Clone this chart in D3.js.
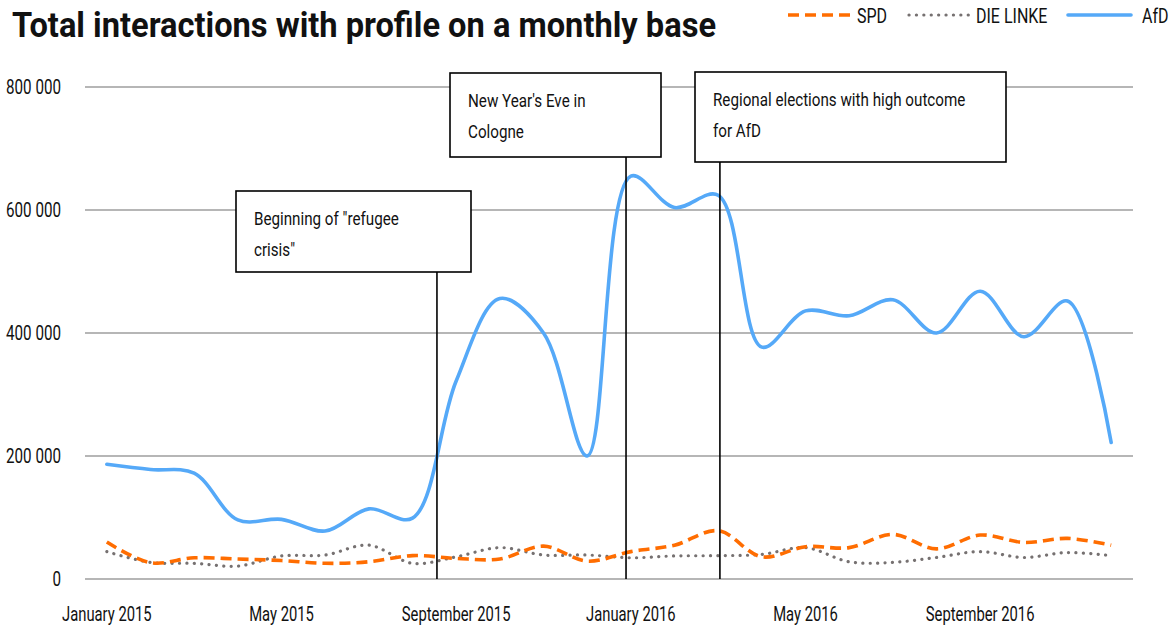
<!DOCTYPE html>
<html>
<head>
<meta charset="utf-8">
<script src="https://cdn.jsdelivr.net/npm/d3@7"></script>
<style>
  html, body { margin: 0; padding: 0; background: #fff; }
  svg { display: block; }
  text { font-family: Roboto, "Liberation Sans", sans-serif; fill: #111; }
</style>
</head>
<body>
<svg id="chart" width="1169" height="629"></svg>
<script>
const months = ["Jan 2015","Feb 2015","Mar 2015","Apr 2015","May 2015","Jun 2015","Jul 2015","Aug 2015","Sep 2015","Oct 2015","Nov 2015","Dec 2015",
                "Jan 2016","Feb 2016","Mar 2016","Apr 2016","May 2016","Jun 2016","Jul 2016","Aug 2016","Sep 2016","Oct 2016","Nov 2016","Dec 2016"];
const xTickLabels = ["January 2015","May 2015","September 2015","January 2016","May 2016","September 2016"];
const xTickMonths = ["Jan 2015","May 2015","Sep 2015","Jan 2016","May 2016","Sep 2016"];
const yTicks = [0, 200000, 400000, 600000, 800000];

const spd   = [60000,26500,34500,32500,30000,25500,28000,38000,33500,32500,53500,29000,44500,55000,78500,36000,52500,51000,72500,49000,71500,59500,66000,55000];
const linke = [44500,27000,25500,21000,37500,39000,55000,25500,36000,51000,39000,39000,34500,37500,38000,40000,51000,28000,27000,35000,44500,35000,43000,38000];
const afd   = [186500,178000,172000,96000,97000,78000,114000,99000,322000,456000,400000,200000,655000,604000,624000,377000,436000,428000,454000,400000,468000,394000,452000,222000];

const seriesNames = ["SPD","DIE LINKE","AfD"];
const events = [
  {lines:["Beginning of \"refugee", "crisis\""], at:7.56},
  {lines:["New Year's Eve in", "Cologne"], at:11.89},
  {lines:["Regional elections with high outcome", "for AfD"], at:14.04}
];

const svg = d3.select("#chart");
const pLeft = 85, pRight = 1133, pTop = 87, pBottom = 579;

const x = d3.scalePoint().domain(months).range([pLeft, pRight]).padding(0.5);
const xi = d3.scaleLinear().domain([0, months.length - 1]).range([x(months[0]), x(months[months.length-1])]);
const y = d3.scaleLinear().domain([0, 800000]).range([pBottom, pTop]);

// condensed text helper
function ctext(sel, tx, ty, sx) {
  return sel.attr("transform", `translate(${tx},${ty}) scale(${sx},1)`);
}

// gridlines
svg.append("g").selectAll("line").data(yTicks).join("line")
  .attr("x1", pLeft).attr("x2", pRight)
  .attr("y1", d => y(d)).attr("y2", d => y(d))
  .attr("stroke", "#9e9e9e").attr("stroke-width", 1.6);

// y labels
const fmt = d => d3.format(",")(d).replace(/,/g, " ");
svg.append("g").selectAll("text").data(yTicks).join("text")
  .each(function(d) { ctext(d3.select(this), 61, y(d), 0.76); })
  .attr("dy", "0.36em")
  .attr("text-anchor", "end").attr("font-size", 20)
  .text(fmt);

// x labels
svg.append("g").selectAll("text").data(xTickMonths).join("text")
  .each(function(d) { ctext(d3.select(this), x(d), 621, 0.74); })
  .attr("text-anchor", "middle").attr("font-size", 20)
  .text((d, i) => xTickLabels[i]);

// lines
const line = d3.line().x((d, i) => x(months[i])).y(d => y(d)).curve(d3.curveCatmullRom.alpha(0.5));

svg.append("path").datum(linke).attr("d", line)
  .attr("fill", "none").attr("stroke", "#767171").attr("stroke-width", 3.2)
  .attr("stroke-linecap", "round").attr("stroke-dasharray", "0.1 7.3");

svg.append("path").datum(spd).attr("d", line)
  .attr("fill", "none").attr("stroke", "#ff6d01").attr("stroke-width", 3.6)
  .attr("stroke-dasharray", "11 6");

svg.append("path").datum(afd).attr("d", line)
  .attr("fill", "none").attr("stroke", "#55a9f8").attr("stroke-width", 3.6)
  .attr("stroke-linejoin", "round").attr("stroke-linecap", "round");

// annotations
const boxes = [
  {x0:236, y0:191, w:235, h:81},
  {x0:450, y0:73,  w:211, h:84},
  {x0:695, y0:72,  w:311, h:90}
];
events.forEach((e, k) => {
  const b = boxes[k];
  const g = svg.append("g");
  g.append("line").attr("x1", xi(e.at)).attr("x2", xi(e.at))
    .attr("y1", b.y0 + b.h).attr("y2", y(0))
    .attr("stroke", "#000").attr("stroke-width", 1.6);
  g.append("rect").attr("x", b.x0).attr("y", b.y0).attr("width", b.w).attr("height", b.h)
    .attr("fill", "#fff").attr("stroke", "#000").attr("stroke-width", 1.6);
  g.selectAll("text").data(e.lines).join("text")
    .each(function(d, i) { ctext(d3.select(this), b.x0 + 18, b.y0 + 34 + i * 31, 0.8); })
    .attr("font-size", 19)
    .text(d => d);
});

// title
svg.append("text").attr("x", 12).attr("y", 37)
  .attr("font-size", 35).attr("font-weight", "bold")
  .attr("textLength", 704).attr("lengthAdjust", "spacingAndGlyphs")
  .text("Total interactions with profile on a monthly base");

// legend
const legend = [
  {name: seriesNames[0], x1:788, x2:852, tx:857, color:"#ff6d01", dash:"11 6", cap:"butt", w:3.6},
  {name: seriesNames[1], x1:909, x2:969, tx:976, color:"#767171", dash:"0.1 7.3", cap:"round", w:3.2},
  {name: seriesNames[2], x1:1068, x2:1131, tx:1142, color:"#55a9f8", dash:null, cap:"round", w:3.6}
];
const lg = svg.append("g");
legend.forEach(l => {
  lg.append("line").attr("x1", l.x1).attr("x2", l.x2).attr("y1", 15).attr("y2", 15)
    .attr("stroke", l.color).attr("stroke-width", l.w).attr("stroke-dasharray", l.dash)
    .attr("stroke-linecap", l.cap);
  ctext(lg.append("text"), l.tx, 23, 0.8).attr("font-size", 20).text(l.name);
});
</script>
</body>
</html>
